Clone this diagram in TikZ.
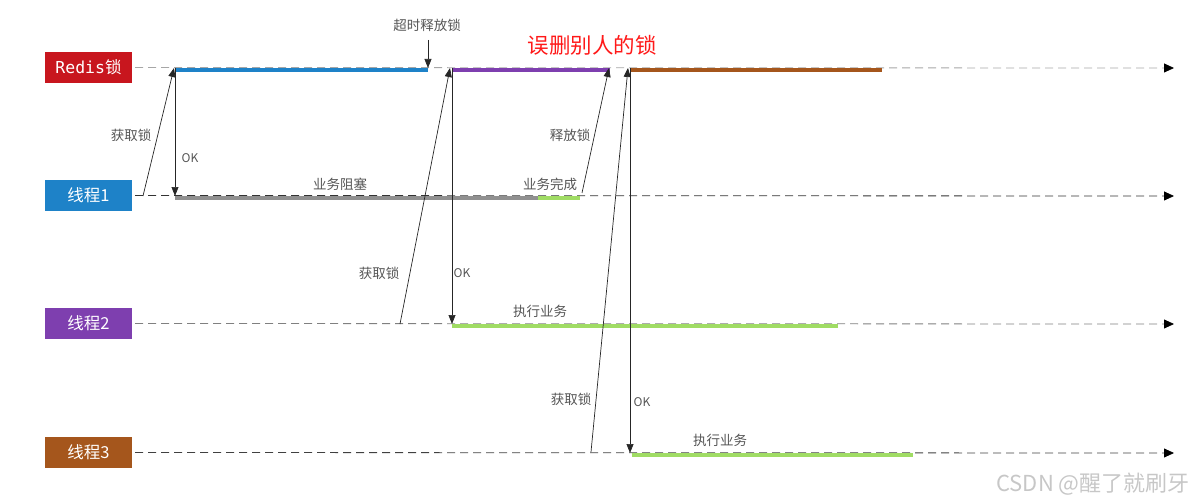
\documentclass[tikz,border=0pt]{standalone}
\usepackage{fontspec}
\setmainfont{Noto Sans CJK SC}
\setmonofont{DejaVu Sans Mono}
\usetikzlibrary{arrows.meta}
\definecolor{redisred}{HTML}{C8161E}
\definecolor{tblue}{HTML}{1E82C8}
\definecolor{tpurple}{HTML}{7E3FAF}
\definecolor{tbrown}{HTML}{A5561C}
\definecolor{tgreen}{HTML}{A0DC64}
\definecolor{tgray}{HTML}{909090}
\definecolor{txt}{HTML}{555555}
\begin{document}
\begin{tikzpicture}[x=1pt,y=-1pt,>={Stealth[length=9pt,width=7pt,inset=0pt]},
	font=\fontsize{13.5}{15}\selectfont, line join=round,
	lbl/.style={minimum width=87pt,minimum height=31pt,inner sep=0pt,text=white,font=\fontsize{16.5}{18}\selectfont},
	timeline/.style={-{Stealth[length=10pt,width=9pt,inset=0pt,black]},dash pattern=on 8pt off 5pt,line width=0.8pt},
	seg/.style={line width=4pt},
	msg/.style={->,line width=0.7pt,black!85},
	note/.style={text=txt},
	oklbl/.style={text=txt,font=\fontsize{12}{13}\selectfont}]
	\useasboundingbox (0,0) rectangle (1200,503);
	% lanes
	\node[lbl,fill=redisred] (redis) at (88.5,67.5) {\ttfamily Redis\rmfamily 锁};
	\node[lbl,fill=tblue] (t1) at (88.5,195.5) {线程1};
	\node[lbl,fill=tpurple] (t2) at (88.5,323.5) {线程2};
	\node[lbl,fill=tbrown] (t3) at (88.5,452.5) {线程3};
	\coordinate (redisend) at (1174,68);
	\coordinate (t1end) at (1174,196);
	\coordinate (t2end) at (1174,324);
	\coordinate (t3end) at (1174,453);
	\draw[timeline,black!35] (redis.east)++(3,0) -- (redisend);
	\draw[timeline,black!80] (t1.east)++(3,0) -- (t1end);
	\draw[timeline,black!50] (t2.east)++(3,0) -- (t2end);
	\draw[timeline,black!75] (t3.east)++(3,0) -- (t3end);
	% lock and work segments
	\draw[seg,tblue] (175,70) -- (428,70);
	\draw[seg,tpurple] (452,70) -- (610,70);
	\draw[seg,tbrown] (630,70) -- (882,70);
	\draw[seg,tgray] (175,198) -- (538,198);
	\draw[seg,tgreen] (538,198) -- (580,198);
	\draw[seg,tgreen] (452,326) -- (838,326);
	\draw[seg,tgreen] (632,455) -- (913,455);
	% points on the lanes
	\coordinate (a1) at (143,196); \coordinate (l1) at (174,68);
	\coordinate (k1) at (175,196); \coordinate (o1) at (175,68);
	\coordinate (to) at (428,40); \coordinate (tr) at (428,68);
	\coordinate (f1) at (582,193); \coordinate (fr) at (609,68);
	\coordinate (a2) at (400,324); \coordinate (l2) at (450,68);
	\coordinate (o2) at (452,68); \coordinate (k2) at (452,324);
	\coordinate (a3) at (591,452); \coordinate (l3) at (628,68);
	\coordinate (o3) at (630,68); \coordinate (k3) at (630,453);
	% messages
	\draw[msg] (a1) -- (l1);
	\draw[msg] (o1) -- (k1);
	\draw[msg] (to) -- (tr);
	\draw[msg] (f1) -- (fr);
	\draw[msg] (a2) -- (l2);
	\draw[msg] (o2) -- (k2);
	\draw[msg] (a3) -- (l3);
	\draw[msg] (o3) -- (k3);
	% texts
	\node[note] (timeout) at (427,25) {超时释放锁};
	\node[text=red!90!white,font=\fontsize{21.5}{23}\selectfont] (wrong) at (592,45) {误删别人的锁};
	\node[note] (get1) at (131,135) {获取锁};
	\node[oklbl] (ok1) at (190,158) {OK};
	\node[note] (block) at (340,184) {业务阻塞};
	\node[note] (done) at (550,184) {业务完成};
	\node[note] (release) at (570,135) {释放锁};
	\node[note] (get2) at (379,273) {获取锁};
	\node[oklbl] (ok2) at (462,273) {OK};
	\node[note] (work2) at (540,311) {执行业务};
	\node[note] (get3) at (571,399) {获取锁};
	\node[oklbl] (ok3) at (642,402) {OK};
	\node[note] (work3) at (720,440) {执行业务};
	\node[text=black!22,font=\fontsize{22}{24}\selectfont] (mark) at (1093,484) {CSDN @醒了就刷牙};
\end{tikzpicture}
\end{document}
